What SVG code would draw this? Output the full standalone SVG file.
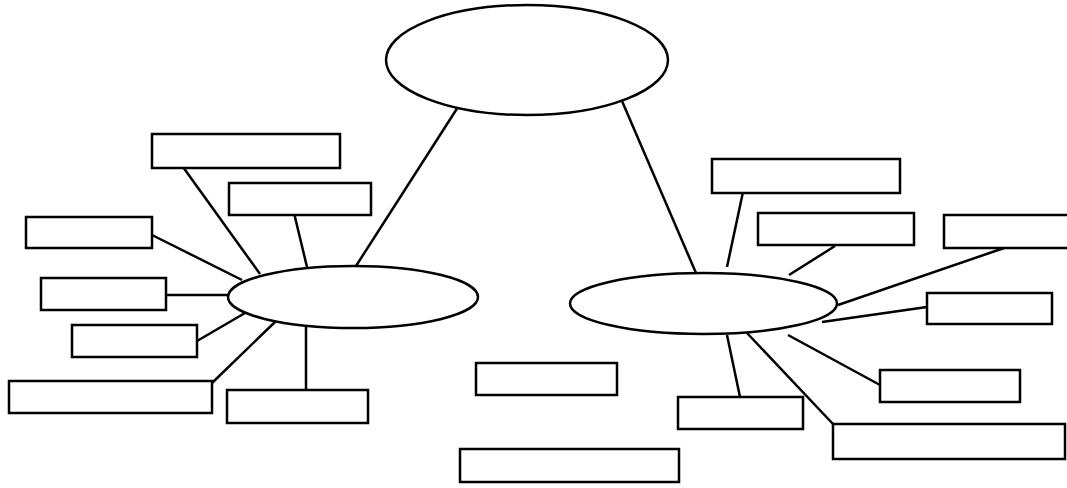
<svg xmlns="http://www.w3.org/2000/svg" width="1067" height="488" viewBox="0 0 1067 488">
<style>
.n{fill:#fff;stroke:#000;stroke-width:2.5}
.c line{stroke:#000;stroke-width:2.5}
</style>
<rect width="1067" height="488" fill="#fff"/>
<g class="c" id="connectors">
<line x1="458" y1="107" x2="356" y2="266"/>
<line x1="622" y1="101" x2="696" y2="273"/>
<line x1="183" y1="167" x2="260" y2="274"/>
<line x1="294" y1="213" x2="307" y2="267"/>
<line x1="152" y1="235" x2="242" y2="280"/>
<line x1="166" y1="295" x2="228" y2="295"/>
<line x1="197" y1="341" x2="245" y2="313"/>
<line x1="212" y1="383" x2="276" y2="321"/>
<line x1="306" y1="390" x2="306" y2="327"/>
<line x1="743" y1="192" x2="727" y2="267"/>
<line x1="835" y1="246" x2="789" y2="275"/>
<line x1="1007" y1="247" x2="838" y2="305"/>
<line x1="927" y1="307" x2="822" y2="322"/>
<line x1="880" y1="385" x2="788" y2="335"/>
<line x1="833" y1="424" x2="747" y2="333"/>
<line x1="740" y1="397" x2="727" y2="335"/>
</g>
<g id="top"><ellipse class="n" cx="527" cy="60" rx="141" ry="55"/></g>
<g id="left"><ellipse class="n" cx="353" cy="297" rx="125" ry="31"/></g>
<g id="right"><ellipse class="n" cx="703.5" cy="303.5" rx="133.5" ry="30.5"/></g>
<g id="l1"><rect class="n" x="152" y="134" width="188" height="34"/></g>
<g id="l2"><rect class="n" x="229" y="183" width="142" height="32"/></g>
<g id="l3"><rect class="n" x="26" y="217" width="126" height="31"/></g>
<g id="l4"><rect class="n" x="41" y="278" width="125" height="32"/></g>
<g id="l5"><rect class="n" x="72" y="325" width="125" height="32"/></g>
<g id="l6"><rect class="n" x="9" y="381" width="203" height="32"/></g>
<g id="l7"><rect class="n" x="227" y="390" width="141" height="33"/></g>
<g id="m1"><rect class="n" x="476" y="363" width="141" height="32"/></g>
<g id="m2"><rect class="n" x="460" y="449" width="219" height="33"/></g>
<g id="r1"><rect class="n" x="712" y="159" width="188" height="34"/></g>
<g id="r2"><rect class="n" x="758" y="213" width="156" height="32"/></g>
<g id="r3"><rect class="n" x="944" y="215" width="130" height="33"/></g>
<g id="r4"><rect class="n" x="927" y="293" width="125" height="31"/></g>
<g id="r5"><rect class="n" x="880" y="370" width="140" height="32"/></g>
<g id="r6"><rect class="n" x="833" y="424" width="232" height="35"/></g>
<g id="r7"><rect class="n" x="678" y="397" width="125" height="32"/></g>
</svg>
